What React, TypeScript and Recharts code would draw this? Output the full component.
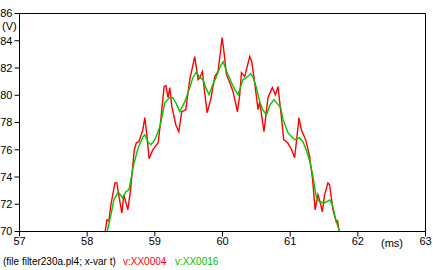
import React from "react";
import { LineChart, Line, XAxis, YAxis, ReferenceLine } from "recharts";

const xTicks = [57, 58, 59, 60, 61, 62, 63];
const yTicks = [70, 72, 74, 76, 78, 80, 82, 84, 86];

// v:XX0004 (red)
const redT = [
  58.24, 58.266, 58.292, 58.321, 58.351, 58.41, 58.439, 58.469, 58.513, 58.542, 58.601, 58.641,
  58.697, 58.727, 58.764, 58.823, 58.852, 58.882, 58.916, 58.97, 59.049, 59.084, 59.137, 59.162,
  59.196, 59.221, 59.251, 59.31, 59.354, 59.398, 59.457, 59.487, 59.516, 59.59, 59.639, 59.664,
  59.704, 59.723, 59.772, 59.826, 59.886, 59.934, 59.974, 59.993, 60.018, 60.058, 60.107, 60.156,
  60.221, 60.255, 60.28, 60.328, 60.402, 60.432, 60.476, 60.525, 60.55, 60.613, 60.672, 60.737,
  60.782, 60.82, 60.87, 60.904, 60.963, 61.022, 61.066, 61.096, 61.13, 61.165, 61.229, 61.288,
  61.332, 61.369, 61.41, 61.435, 61.475, 61.509, 61.558, 61.583, 61.632, 61.682, 61.701, 61.723,
  61.745,
];
const redV = [
  69.6, 70.0, 70.85, 70.78, 71.96, 73.57, 73.57, 72.62, 71.37, 72.69, 71.59, 73.06,
  76.0, 76.51, 76.59, 77.47, 78.35, 77.1, 75.34, 76.0, 76.51, 77.99, 80.63, 80.71,
  79.82, 80.56, 79.16, 77.84, 77.32, 78.79, 78.94, 80.04, 81.15, 82.84, 81.15, 81.29,
  81.74, 80.78, 78.72, 79.68, 81.37, 81.74, 83.35, 84.24, 83.35, 81.51, 80.93, 80.26,
  78.79, 80.04, 81.66, 81.37, 82.84, 82.47, 80.93, 78.94, 79.53, 77.32, 79.82, 80.56,
  80.04, 80.63, 78.43, 76.74, 76.51, 76.0, 75.41, 76.74, 78.35, 77.47, 76.74, 75.49,
  73.79, 71.59, 72.69, 72.32, 71.44, 72.69, 73.57, 73.43, 71.59, 70.71, 70.78, 70.0,
  69.5,
];

// v:XX0016 (green)
const greenT = [
  58.27, 58.296, 58.351, 58.395, 58.458, 58.523, 58.572, 58.616, 58.646, 58.68, 58.753, 58.827,
  58.852, 58.897, 58.941, 59.0, 59.074, 59.148, 59.221, 59.266, 59.325, 59.369, 59.443, 59.516,
  59.561, 59.615, 59.664, 59.713, 59.753, 59.801, 59.856, 59.911, 59.959, 60.008, 60.063, 60.132,
  60.181, 60.23, 60.303, 60.354, 60.417, 60.454, 60.501, 60.55, 60.594, 60.649, 60.705, 60.761,
  60.82, 60.86, 60.894, 60.967, 61.022, 61.066, 61.14, 61.189, 61.236, 61.288, 61.332, 61.387,
  61.435, 61.509, 61.583, 61.623, 61.682, 61.731, 61.75,
];
const greenV = [
  69.6, 70.0, 71.22, 72.32, 72.91, 72.47, 72.91, 73.06, 73.79, 74.75, 76.15, 76.96,
  77.1, 76.59, 76.37, 76.74, 77.69, 79.46, 79.82, 79.82, 79.31, 78.79, 79.53, 80.56,
  81.29, 81.74, 81.29, 81.15, 80.56, 80.04, 80.78, 81.37, 82.03, 82.47, 81.74, 80.93,
  80.41, 80.04, 81.15, 81.29, 81.59, 81.29, 80.56, 79.53, 78.94, 78.57, 79.31, 79.68,
  79.31, 79.09, 78.21, 77.25, 76.96, 76.74, 76.88, 76.59, 76.0, 75.19, 74.16, 72.54,
  72.18, 72.1, 72.32, 71.96, 70.71, 70.0, 69.6,
];

const redData = redT.map((t, i) => ({ t, v: redV[i] }));
const greenData = greenT.map((t, i) => ({ t, v: greenV[i] }));

const font = "'Liberation Sans', Arial, sans-serif";
const tickStyle = { fontSize: 11, fontFamily: font, fill: "#000" };

export default function App() {
  return (
    <div style={{ position: "absolute", left: 0, top: 0, width: 433, height: 270, background: "#fff", fontFamily: font, fontSize: 11 }}>
      <LineChart
        width={433}
        height={270}
        margin={{ top: 13.5, right: 7.5, bottom: 8.5, left: 0 }}
      >
        <XAxis
          dataKey="t"
          type="number"
          domain={[57, 63]}
          ticks={xTicks}
          allowDataOverflow
          height={30}
          stroke="#000"
          tickSize={5}
          tickMargin={1}
          tick={tickStyle}
          interval={0}
        />
        <YAxis
          type="number"
          domain={[70, 86]}
          ticks={yTicks}
          allowDataOverflow
          width={19.5}
          stroke="#000"
          tickSize={5}
          tickMargin={2}
          tick={tickStyle}
          interval={0}
        />
        <ReferenceLine x={63} stroke="#000" strokeWidth={1} />
        <ReferenceLine y={86} stroke="#000" strokeWidth={1} />
        <Line
          data={redData}
          dataKey="v"
          type="linear"
          stroke="#ff0000"
          strokeWidth={1.4}
          dot={false}
          isAnimationActive={false}
        />
        <Line
          data={greenData}
          dataKey="v"
          type="linear"
          stroke="#00c800"
          strokeWidth={1.4}
          dot={false}
          isAnimationActive={false}
        />
      </LineChart>
      <span style={{ position: "absolute", left: 2, top: 20, lineHeight: "12px" }}>(V)</span>
      <span style={{ position: "absolute", left: 381, top: 237, lineHeight: "12px" }}>(ms)</span>
      <div style={{ position: "absolute", left: 3, top: 256, lineHeight: "12px", whiteSpace: "nowrap", fontSize: 10 }}>
        <span>(file filter230a.pl4; x-var t)</span>
        <span style={{ position: "absolute", left: 120, color: "#ff0000" }}>v:XX0004</span>
        <span style={{ position: "absolute", left: 172, color: "#00c000" }}>v:XX0016</span>
      </div>
    </div>
  );
}
